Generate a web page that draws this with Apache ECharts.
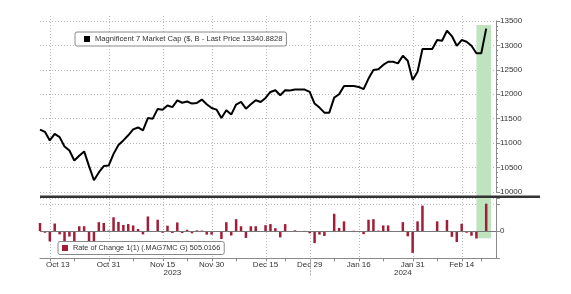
<!DOCTYPE html>
<html>
<head>
<meta charset="utf-8">
<script src="https://cdn.jsdelivr.net/npm/echarts@6/dist/echarts.min.js"></script>
<style>html,body{margin:0;padding:0;background:#fff}#c{width:571px;height:294px}</style>
</head>
<body>
<div id="c"></div>
<script>
// ---- data ----
const dates = [
 '2023-10-11','2023-10-12','2023-10-13','2023-10-16','2023-10-17','2023-10-18','2023-10-19','2023-10-20',
 '2023-10-23','2023-10-24','2023-10-25','2023-10-26','2023-10-27','2023-10-30','2023-10-31',
 '2023-11-01','2023-11-02','2023-11-03','2023-11-06','2023-11-07','2023-11-08','2023-11-09','2023-11-10',
 '2023-11-13','2023-11-14','2023-11-15','2023-11-16','2023-11-17','2023-11-20','2023-11-21','2023-11-22',
 '2023-11-24','2023-11-27','2023-11-28','2023-11-29','2023-11-30',
 '2023-12-01','2023-12-04','2023-12-05','2023-12-06','2023-12-07','2023-12-08','2023-12-11','2023-12-12',
 '2023-12-13','2023-12-14','2023-12-15','2023-12-18','2023-12-19','2023-12-20','2023-12-21','2023-12-22',
 '2023-12-26','2023-12-27','2023-12-28','2023-12-29',
 '2024-01-02','2024-01-03','2024-01-04','2024-01-05','2024-01-08','2024-01-09','2024-01-10','2024-01-11',
 '2024-01-12','2024-01-16','2024-01-17','2024-01-18','2024-01-19','2024-01-22','2024-01-23','2024-01-24',
 '2024-01-25','2024-01-26','2024-01-29','2024-01-30','2024-01-31',
 '2024-02-01','2024-02-02','2024-02-05','2024-02-06','2024-02-07','2024-02-08','2024-02-09','2024-02-12',
 '2024-02-13','2024-02-14','2024-02-15','2024-02-16','2024-02-20','2024-02-21','2024-02-22',
 '2024-02-23','2024-02-26'
];
const mag7Cap = [
 11275,11230,11055,11190,11123,10932,10850,10645,10740,10830,10530,10240,10400,10530,10540,
 10780,10960,11055,11160,11280,11320,11260,11512,11500,11700,11684,11770,11736,11873,11826,11852,
 11809,11822,11891,11795,11719,11686,11514,11672,11584,11789,11842,11705,11795,11877,11842,11924,
 12047,12082,11980,12082,12076,12096,12096,12096,12047,
 11809,11727,11623,11623,11930,12000,12166,12166,12170,12150,12104,12320,12494,12510,12600,12664,
 12664,12631,12787,12684,12289,
 12460,12924,12924,12924,13108,13094,13299,13190,12991,13108,13074,12991,12837,12837,13340.8828
];
const rateOfChange = [
 150,-30,-190,140,-60,-190,-100,-200,90,90,-300,-290,165,150,10,
 255,170,115,130,105,40,-60,270,-15,210,-30,100,-35,160,-35,25,
 -40,15,10,-65,-65,-15,-145,165,-80,220,90,-125,90,90,-10,110,
 130,55,-115,130,-8,15,0,5,-40,
 -220,-65,-90,-5,320,60,180,0,8,-10,-55,210,220,10,105,105,
 0,-15,165,-95,-400,
 180,470,0,0,180,-15,205,-105,-200,135,-30,-85,-135,0,505.0166
];
const labelDates = ['2023-10-13','2023-10-31','2023-11-15','2023-11-30','2023-12-15','2023-12-29','2024-01-16','2024-01-31','2024-02-14'];
const minorTickDates = ['2023-10-20','2023-11-07','2023-11-22','2023-12-07','2023-12-21','2024-01-08','2024-01-23','2024-02-07','2024-02-21'];
const capName = 'Magnificent 7 Market Cap ($, B';
const rocName = 'Rate of Change 1(1) (.MAG7MC G)';
const lastPrice = 13340.8828;
const lastRoc = 505.0166;
const highlight = ['2024-02-20', '2024-02-23'];

// ---- helpers ----
const MONTHS = ['Jan','Feb','Mar','Apr','May','Jun','Jul','Aug','Sep','Oct','Nov','Dec'];
const fmtDate = s => MONTHS[+s.slice(5,7)-1] + ' ' + (+s.slice(8,10));
const FONT = "'Liberation Sans',Arial,sans-serif";
const TXT = '#333';
const GRIDC = '#b8b8b8';
const AXC = '#8a8a8a';
const AXFS = 8;
const LGFS = 7.6;

const labelIdx = labelDates.map(d => dates.indexOf(d));
const tickIdx = labelIdx.concat(minorTickDates.map(d => dates.indexOf(d)));
const years = {};
dates.forEach((d, i) => { const y = d.slice(0,4); (years[y] = years[y] || []).push(i); });
const yearKeys = Object.keys(years);
const yearLabelIdx = yearKeys.map(y => Math.floor((years[y][0] + years[y][years[y].length-1]) / 2));
const yearEndIdx = yearKeys.slice(0, -1).map(y => years[y][years[y].length-1]);

const isLabel = (i) => labelIdx.includes(i);
const gridDots = {color: GRIDC, type: [1, 2], width: 1};

// vertical marks drawn through the background grid's category scale
function vMark(fromTop, len, stroke, dash) {
  return function (params, api) {
    const i = api.value(0);
    const top = api.coord([i, 1]);
    const bot = api.coord([i, 0]);
    const x = Math.round(bot[0]) + 0.5;
    const y1 = fromTop ? top[1] : bot[1];
    const y2 = fromTop ? bot[1] : bot[1] + len;
    return {type: 'line', shape: {x1: x, y1: y1, x2: x, y2: y2},
            style: {stroke: stroke, lineWidth: 1, lineDash: dash || null}};
  };
}

const chart = echarts.init(document.getElementById('c'), null, {renderer: 'canvas'});
chart.setOption({
  animation: false,
  backgroundColor: '#fff',
  textStyle: {fontFamily: FONT},
  grid: [
    {left: 40, width: 456, top: 20.9, height: 171.1},
    {left: 40, width: 456, top: 198, height: 60.3},
    {left: 40, width: 456, top: 16, height: 242.3}
  ],
  legend: [
    {
      data: [capName], left: 75, top: 32, icon: 'rect', itemWidth: 6, itemHeight: 6,
      padding: [3, 4, 3, 9], borderColor: '#888', borderWidth: 1, borderRadius: 2,
      backgroundColor: '#fff', selectedMode: false, z: 10,
      textStyle: {fontSize: LGFS, color: TXT, fontFamily: FONT},
      formatter: n => n + ' - Last Price ' + lastPrice
    },
    {
      data: [rocName], left: 58, top: 241.5, icon: 'rect', itemWidth: 6, itemHeight: 6,
      padding: [3, 4, 3, 4], borderColor: '#888', borderWidth: 1, borderRadius: 2,
      backgroundColor: '#fff', selectedMode: false, z: 10,
      textStyle: {fontSize: 7.3, color: TXT, fontFamily: FONT},
      formatter: n => n + ' ' + lastRoc
    }
  ],
  xAxis: [
    {
      type: 'category', gridIndex: 0, data: dates, boundaryGap: false,
      axisLine: {show: false}, axisTick: {show: false}, axisLabel: {show: false}, splitLine: {show: false}
    },
    {
      type: 'category', gridIndex: 1, data: dates, boundaryGap: false, position: 'bottom',
      axisLine: {show: true, onZero: false, lineStyle: {color: AXC, width: 1}},
      axisTick: {show: false},
      axisLabel: {
        show: true, interval: isLabel, margin: 2, fontSize: AXFS, color: TXT, fontFamily: FONT,
        formatter: v => v === labelDates[0] ? '{f|' + fmtDate(v) + '}' : fmtDate(v),
        rich: {f: {padding: [0, 0, 0, 16], fontSize: AXFS, color: TXT, fontFamily: FONT}}
      },
      splitLine: {show: false}
    },
    {
      type: 'category', gridIndex: 1, data: dates, boundaryGap: false, position: 'bottom',
      axisLine: {show: false}, axisTick: {show: false},
      axisLabel: {show: true, interval: (i) => yearLabelIdx.includes(i), margin: 10, fontSize: AXFS,
                  color: TXT, fontFamily: FONT, formatter: v => v.slice(0, 4)},
      splitLine: {show: false}
    },
    {
      type: 'category', gridIndex: 2, data: dates, boundaryGap: false, show: false
    }
  ],
  yAxis: [
    {
      type: 'value', gridIndex: 0, position: 'right', min: 10000, max: 13500, interval: 500,
      axisLine: {show: true, lineStyle: {color: AXC}},
      axisTick: {show: true, length: 4, lineStyle: {color: AXC}},
      minorTick: {show: true, splitNumber: 5, length: 2, lineStyle: {color: AXC}},
      axisLabel: {margin: 4, fontSize: AXFS, color: TXT, fontFamily: FONT, formatter: v => String(v)},
      splitLine: {show: true, lineStyle: gridDots}
    },
    {
      type: 'value', gridIndex: 1, position: 'right', min: -500, max: 610, interval: 500,
      axisLine: {show: true, lineStyle: {color: AXC}},
      axisTick: {show: true, length: 4, lineStyle: {color: AXC}},
      axisLabel: {margin: 4, fontSize: AXFS, color: TXT, fontFamily: FONT,
                  formatter: v => v === 0 ? '0' : ''},
      splitLine: {show: true, lineStyle: gridDots}
    },
    {type: 'value', gridIndex: 2, min: 0, max: 1, show: false}
  ],
  graphic: [
    {type: 'rect', z: 50, shape: {x: 40, y: 195.5, width: 500, height: 2.6}, style: {fill: '#333'}, silent: true}
  ],
  series: [
    {
      name: 'dateGrid', type: 'custom', xAxisIndex: 3, yAxisIndex: 2, z: 0, silent: true, clip: false,
      data: labelIdx.map(i => [i]), renderItem: vMark(true, 0, GRIDC, [1, 2])
    },
    {
      name: 'dateTicks', type: 'custom', xAxisIndex: 3, yAxisIndex: 2, z: 2, silent: true, clip: false,
      data: tickIdx.map(i => [i]), renderItem: vMark(false, 3, AXC)
    },
    {
      name: 'yearDivider', type: 'custom', xAxisIndex: 3, yAxisIndex: 2, z: 2, silent: true, clip: false,
      data: yearEndIdx.map(i => [i]), renderItem: vMark(false, 17, '#aaa', [2, 1])
    },
    {
      name: 'highlight', type: 'line', xAxisIndex: 3, yAxisIndex: 2, data: [], z: 1, silent: true,
      markArea: {
        silent: true, itemStyle: {color: '#bfe3bf'},
        data: [[{xAxis: highlight[0], yAxis: 0.083}, {xAxis: highlight[1], yAxis: 0.963}]]
      }
    },
    {
      name: capName, type: 'line', xAxisIndex: 0, yAxisIndex: 0, data: mag7Cap, z: 3,
      showSymbol: false, symbol: 'none', silent: true, color: '#000',
      lineStyle: {color: '#000', width: 2}, itemStyle: {color: '#000'},
      markLine: {
        silent: true, symbol: ['none', 'none'], animation: false,
        lineStyle: {opacity: 0},
        data: [{yAxis: lastPrice}],
        label: {position: 'end', distance: 3, formatter: () => String(lastPrice),
                backgroundColor: '#000', color: '#fff', padding: [1, 2, 0, 2],
                fontSize: AXFS, fontFamily: FONT}
      }
    },
    {
      name: rocName, type: 'bar', xAxisIndex: 1, yAxisIndex: 1, data: rateOfChange, z: 3,
      barWidth: 2.5, silent: true, clip: false, color: '#a01e38',
      itemStyle: {color: '#a01e38'},
      markLine: {
        silent: true, symbol: ['none', 'none'], animation: false,
        data: [
          {yAxis: lastRoc, lineStyle: {opacity: 0},
           label: {show: true, position: 'end', distance: 3, formatter: () => String(lastRoc),
                   backgroundColor: '#b81f35', color: '#fff', padding: [1, 2, 0, 2],
                   fontSize: AXFS, fontFamily: FONT}},
          {yAxis: 0, lineStyle: {color: '#777', width: 1, type: 'solid', opacity: 1},
           label: {show: false}}
        ]
      }
    }
  ]
});
</script>
</body>
</html>
